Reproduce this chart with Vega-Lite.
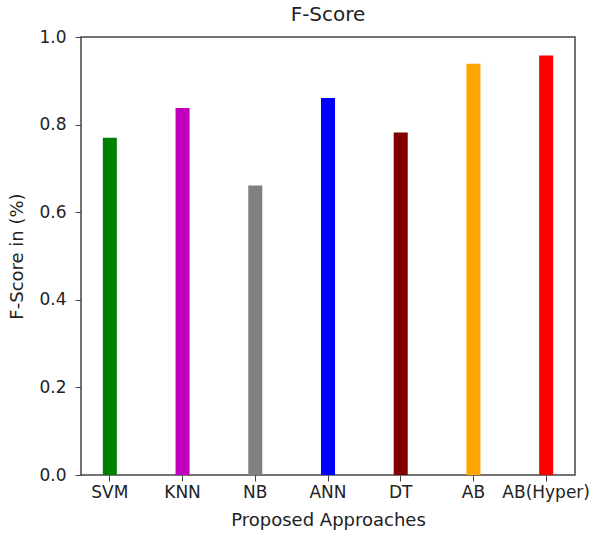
{
  "$schema": "https://vega.github.io/schema/vega-lite/v6.json",
  "autosize": {"type": "none"},
  "width": 494,
  "height": 438,
  "padding": {"left": 81, "top": 37, "right": 18, "bottom": 61},
  "background": "white",
  "title": {"text": "F-Score", "fontSize": 20, "font": "DejaVu Sans", "fontWeight": "normal", "color": "#222", "offset": 3},
  "data": {"values": [
    {"approach": "SVM", "score": 0.770},
    {"approach": "KNN", "score": 0.838},
    {"approach": "NB", "score": 0.661},
    {"approach": "ANN", "score": 0.861},
    {"approach": "DT", "score": 0.782},
    {"approach": "AB", "score": 0.939},
    {"approach": "AB(Hyper)", "score": 0.958}
  ]},
  "mark": {"type": "bar"},
  "encoding": {
    "x": {"field": "approach", "type": "nominal", "sort": null,
      "scale": {"paddingInner": 0.807, "paddingOuter": 0.3},
      "axis": {"title": "Proposed Approaches", "labelAngle": 0, "domain": false, "ticks": true, "tickSize": 6, "tickColor": "#444", "labelFont": "DejaVu Sans", "labelFontSize": 17, "labelColor": "#222", "labelPadding": 3, "titleFont": "DejaVu Sans", "titleFontSize": 18, "titleFontWeight": "normal", "titleColor": "#222", "titlePadding": 11}},
    "y": {"field": "score", "type": "quantitative",
      "scale": {"domain": [0, 1.0], "nice": false},
      "axis": {"title": "F-Score in (%)", "values": [0, 0.2, 0.4, 0.6, 0.8, 1.0], "format": ".1f", "grid": false, "domain": false, "tickSize": 6, "tickColor": "#444", "labelFont": "DejaVu Sans", "labelFontSize": 17, "labelColor": "#222", "labelPadding": 9, "titleFont": "DejaVu Sans", "titleFontSize": 18, "titleFontWeight": "normal", "titleColor": "#222", "titlePadding": 12}},
    "color": {"field": "approach", "type": "nominal", "legend": null,
      "scale": {"domain": ["SVM", "KNN", "NB", "ANN", "DT", "AB", "AB(Hyper)"],
        "range": ["#008000", "#bf00bf", "#808080", "#0000ff", "#800000", "#ffa500", "#ff0000"]}}
  },
  "config": {"view": {"stroke": "#444", "strokeWidth": 1.5}}
}
